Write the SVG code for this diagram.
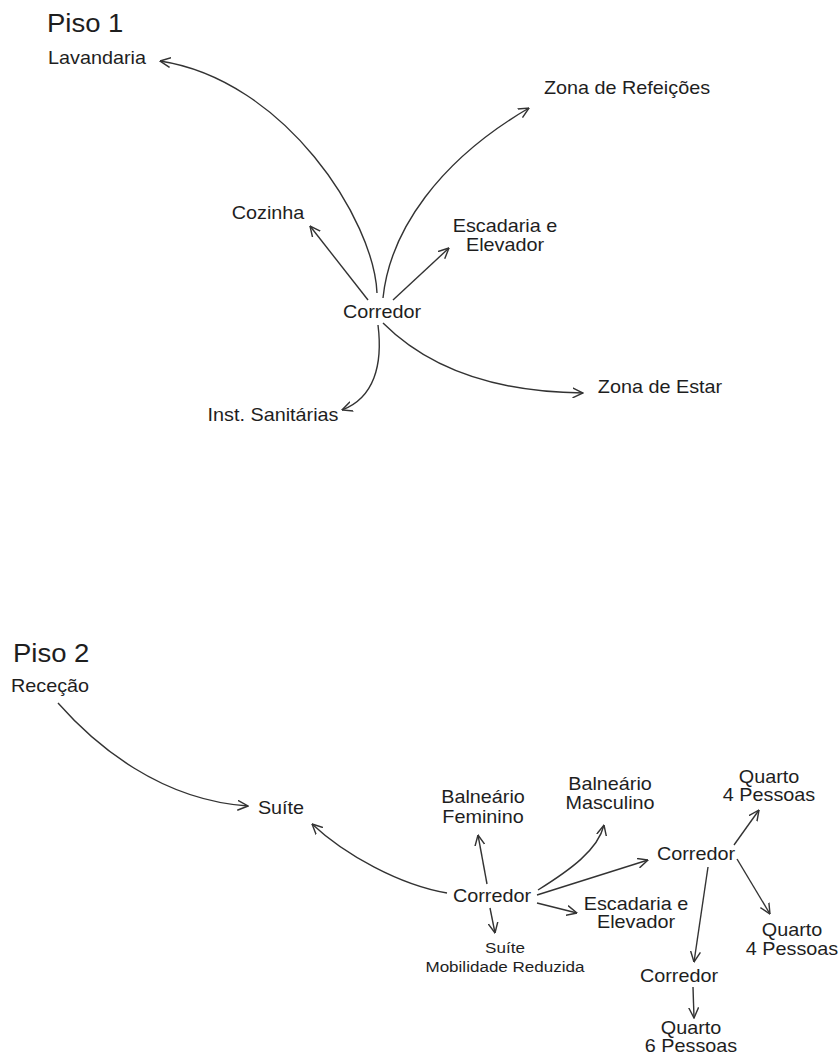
<svg xmlns="http://www.w3.org/2000/svg" width="840" height="1056" viewBox="0 0 840 1056">
<style>
.t{font-family:"Liberation Sans",Arial,sans-serif;fill:#1e1e1e}
.title{font-size:25px;text-anchor:start}
.n{font-size:18px;text-anchor:middle}
.s{font-size:15.5px;text-anchor:middle}
.e{fill:none;stroke:#333333;stroke-width:1.4;marker-end:url(#ah)}
</style>
<defs>
<marker id="ah" viewBox="0 0 10 10" refX="9.5" refY="5" markerWidth="11" markerHeight="11" orient="auto" markerUnits="userSpaceOnUse">
<path d="M0,0.5 L9.5,5 L0,9.5" fill="none" stroke="#333333" stroke-width="1.3"/>
</marker>
</defs>
<rect width="840" height="1056" fill="#ffffff"/>

<g id="connectors">
<!-- Piso 1 -->
<path class="e" d="M377,293 C374,220 285,80 160,61"/>
<path class="e" d="M383,298 C390,230 440,160 529,108"/>
<path class="e" d="M368,300 L310,226"/>
<path class="e" d="M393,300 L449,248"/>
<path class="e" d="M378,325 C383,365 374,398 342,410"/>
<path class="e" d="M383,323 C420,360 480,392 583,393"/>
<!-- Piso 2 -->
<path class="e" d="M58,703 C95,745 160,800 248,806"/>
<path class="e" d="M447,893 C400,885 345,855 312,824"/>
<path class="e" d="M487,884 L478,835"/>
<path class="e" d="M538,890 C570,870 598,850 604,825"/>
<path class="e" d="M537,895 L648,860"/>
<path class="e" d="M537,903 L577,913"/>
<path class="e" d="M490,908 L495,933"/>
<path class="e" d="M734,845 L759,810"/>
<path class="e" d="M737,859 L770,914"/>
<path class="e" d="M708,867 L694,962"/>
<path class="e" d="M693,987 L694,1018"/>
</g>

<g id="titulo-piso1"><text class="t title" transform="translate(47,32) scale(1.1,1)">Piso 1</text></g>
<g id="lavandaria"><text class="t n" transform="translate(97,64) scale(1.1,1)">Lavandaria</text></g>
<g id="zona-refeicoes"><text class="t n" transform="translate(627,94) scale(1.1,1)">Zona de Refeições</text></g>
<g id="cozinha"><text class="t n" transform="translate(268,219) scale(1.1,1)">Cozinha</text></g>
<g id="escadaria1"><text class="t n" transform="translate(505,232) scale(1.1,1)"><tspan x="0" y="0">Escadaria e</tspan><tspan x="0" y="19">Elevador</tspan></text></g>
<g id="corredor1"><text class="t n" transform="translate(382,318) scale(1.1,1)">Corredor</text></g>
<g id="inst-sanitarias"><text class="t n" transform="translate(273,421) scale(1.1,1)">Inst. Sanitárias</text></g>
<g id="zona-estar"><text class="t n" transform="translate(660,393) scale(1.1,1)">Zona de Estar</text></g>

<g id="titulo-piso2"><text class="t title" transform="translate(13,662) scale(1.1,1)">Piso 2</text></g>
<g id="rececao"><text class="t n" transform="translate(50,692) scale(1.1,1)">Receção</text></g>
<g id="suite"><text class="t n" transform="translate(281,814) scale(1.1,1)">Suíte</text></g>
<g id="balneario-fem"><text class="t n" transform="translate(483,803) scale(1.1,1)"><tspan x="0" y="0">Balneário</tspan><tspan x="0" y="20">Feminino</tspan></text></g>
<g id="balneario-masc"><text class="t n" transform="translate(610,790) scale(1.1,1)"><tspan x="0" y="0">Balneário</tspan><tspan x="0" y="19">Masculino</tspan></text></g>
<g id="corredor2"><text class="t n" transform="translate(492,902) scale(1.1,1)">Corredor</text></g>
<g id="suite-mr"><text class="t s" transform="translate(505,953) scale(1.1,1)"><tspan x="0" y="0">Suíte</tspan><tspan x="0" y="19">Mobilidade Reduzida</tspan></text></g>
<g id="escadaria2"><text class="t n" transform="translate(636,910) scale(1.1,1)"><tspan x="0" y="0">Escadaria e</tspan><tspan x="0" y="18">Elevador</tspan></text></g>
<g id="corredor3"><text class="t n" transform="translate(696,860) scale(1.1,1)">Corredor</text></g>
<g id="quarto4a"><text class="t n" transform="translate(769,783) scale(1.1,1)"><tspan x="0" y="0">Quarto</tspan><tspan x="0" y="18">4 Pessoas</tspan></text></g>
<g id="quarto4b"><text class="t n" transform="translate(792,936) scale(1.1,1)"><tspan x="0" y="0">Quarto</tspan><tspan x="0" y="19">4 Pessoas</tspan></text></g>
<g id="corredor4"><text class="t n" transform="translate(679,982) scale(1.1,1)">Corredor</text></g>
<g id="quarto6"><text class="t n" transform="translate(691,1034) scale(1.1,1)"><tspan x="0" y="0">Quarto</tspan><tspan x="0" y="18">6 Pessoas</tspan></text></g>
</svg>
